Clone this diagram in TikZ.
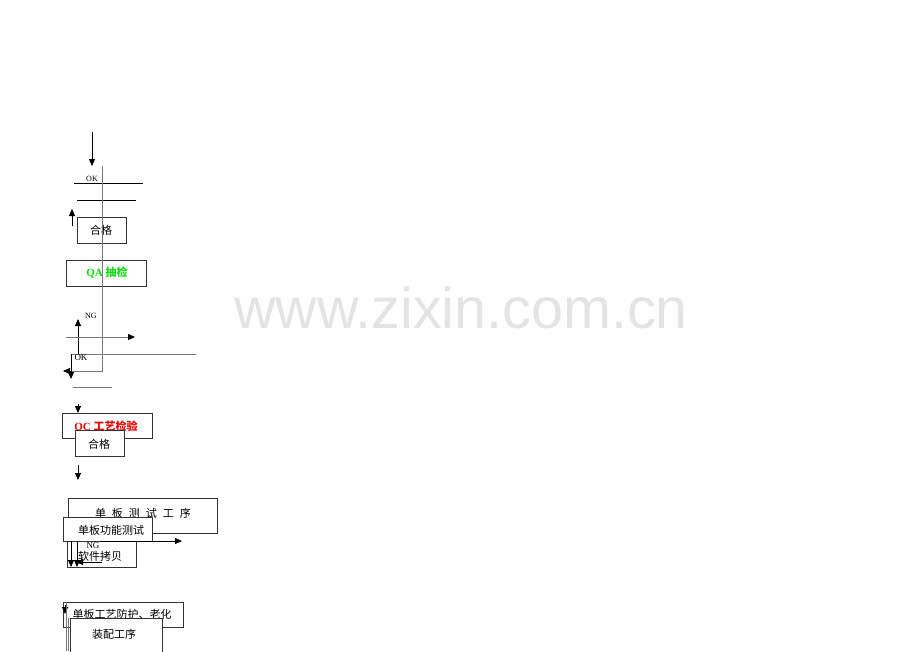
\documentclass[tikz,border=0pt]{standalone}
\usepackage{fontspec}
\setmainfont{Liberation Serif}
\newfontfamily\cjk{Noto Sans CJK SC}
\newfontfamily\wmfont{Liberation Sans}
\usetikzlibrary{arrows.meta}
\definecolor{qagreen}{RGB}{20,220,20}
\definecolor{qcred}{RGB}{240,0,0}
\definecolor{wmgray}{RGB}{228,228,228}
\definecolor{linegray}{RGB}{120,120,120}
\begin{document}
\begin{tikzpicture}[x=1pt,y=-1pt,
  box/.style={draw=black!80, line width=0.8pt, fill=white, inner sep=0pt, anchor=north west},
  ctext/.style={font=\cjk\fontsize{11}{11}\selectfont, inner sep=0pt},
  lbl/.style={font=\fontsize{8}{8}\selectfont, inner sep=0pt},
  ln/.style={line width=0.8pt},
  gln/.style={line width=1pt, draw=linegray},
  tip/.style={-{Triangle[length=7pt,width=6pt]}},
  btip/.style={-{Triangle[length=7pt,width=6pt,black]}},
  arr/.style={line width=0.9pt, tip}]
\useasboundingbox (0,0) rectangle (920,651);

% watermark
\node[font=\wmfont\fontsize{57.5}{57.5}\selectfont, text=wmgray, anchor=base west, inner sep=0pt] (wm) at (234,328) {www.zixin.com.cn};

% ---------- upper part ----------
\coordinate (a1s) at (92,132);
\coordinate (a1e) at (92,166);
\draw[arr] (a1s) -- (a1e);

\node[lbl] (ok1) at (92,179) {OK};
\coordinate (l1a) at (74,183); \coordinate (l1b) at (143,183);
\draw[ln] (l1a) -- (l1b);
\coordinate (l2a) at (77,200); \coordinate (l2b) at (136,200);
\draw[ln] (l2a) -- (l2b);

\coordinate (up1s) at (72,226); \coordinate (up1e) at (72,209);
\draw[arr] (up1s) -- (up1e);

\node[box, minimum width=49pt, minimum height=26pt] (hg1) at (77,217) {};
\node[ctext] (hg1t) at (101,230) {合格};

\node[box, minimum width=80pt, minimum height=26pt] (qa) at (66,260) {};
\node[inner sep=0pt, text=qagreen] (qat) at (107,273) {\fontsize{11}{11}\selectfont\bfseries QA {\cjk\bfseries 抽检}};

% NG / OK junction
\coordinate (ngs) at (78,354); \coordinate (nge) at (78,319);
\draw[arr] (ngs) -- (nge);
\node[lbl] (ng1) at (91,316) {NG};
\coordinate (h1s) at (66,337); \coordinate (h1e) at (135,337);
\draw[gln, btip] (h1s) -- (h1e);

\coordinate (g1) at (71,354); \coordinate (g2) at (196,354);
\draw[gln] (g1) -- (g2);
\node[lbl, font=\fontsize{9}{9}\selectfont] (ok2) at (81,358) {OK};

% gray vertical trunk
\coordinate (v1) at (102,166); \coordinate (v2) at (102,371); \coordinate (v3) at (71,371);
\draw[gln] (v1) -- (v2) -- (v3);

\coordinate (bks) at (71,354); \coordinate (bke) at (71,379);
\draw[arr] (bks) -- (bke);
\coordinate (lfs) at (71,371); \coordinate (lfe) at (63,371);
\draw[arr] (lfs) -- (lfe);

\coordinate (l3a) at (73,387); \coordinate (l3b) at (112,387);
\draw[gln] (l3a) -- (l3b);

% QC
\coordinate (a2s) at (78,404); \coordinate (a2e) at (78,413);
\draw[arr] (a2s) -- (a2e);
\node[box, minimum width=90pt, minimum height=25pt] (qc) at (62,413) {};
\node[inner sep=0pt, text=qcred] (qct) at (106,427) {\fontsize{11}{11}\selectfont\bfseries QC {\cjk\bfseries 工艺检验}};
\node[box, minimum width=49pt, minimum height=26pt] (hg2) at (75,430) {};
\node[ctext] (hg2t) at (99,444) {合格};

\coordinate (a3s) at (78,465); \coordinate (a3e) at (78,480);
\draw[arr] (a3s) -- (a3e);

% ---------- lower part ----------
\node[box, minimum width=149pt, minimum height=35pt] (dbt) at (68,498) {};
\node[ctext] (dbtt) at (143,513) {单\hspace{6pt}板\hspace{6pt}测\hspace{6pt}试\hspace{6pt}工\hspace{6pt}序};

\node[box, minimum width=89pt, minimum height=24pt] (gn) at (63,517) {};
\node[ctext] (gnt) at (111,530) {单板功能测试};

\node[box, minimum width=69pt, minimum height=26pt] (rj) at (67,541) {};
\node[ctext] (rjt) at (100,556) {软件拷贝};
\node[lbl, font=\fontsize{9}{9}\selectfont] (ng2) at (93,546) {NG};

\coordinate (h2s) at (100,541); \coordinate (h2e) at (182,541);
\draw[arr] (h2s) -- (h2e);
\coordinate (d1s) at (71,541); \coordinate (d1e) at (71,567);
\draw[arr] (d1s) -- (d1e);
\coordinate (d2s) at (77,541); \coordinate (d2e) at (77,567);
\draw[arr] (d2s) -- (d2e);
\coordinate (l4s) at (102,562); \coordinate (l4e) at (76,562);
\draw[arr] (l4s) -- (l4e);

\node[box, minimum width=120pt, minimum height=25pt] (fh) at (63,602) {};
\node[ctext] (fht) at (122,614) {单板工艺防护、老化};
\coordinate (d3s) at (65,605); \coordinate (d3e) at (65,614);
\draw[arr] (d3s) -- (d3e);

\node[box, minimum width=92pt, minimum height=40pt] (zp) at (70,618) {};
\node[ctext] (zpt) at (114,634) {装配工序};

\coordinate (vv1) at (66,602); \coordinate (vv2) at (66,651);
\draw[gln] (vv1) -- (vv2);
\coordinate (vv3) at (68.5,618); \coordinate (vv4) at (68.5,651);
\draw[gln] (vv3) -- (vv4);
\end{tikzpicture}
\end{document}
